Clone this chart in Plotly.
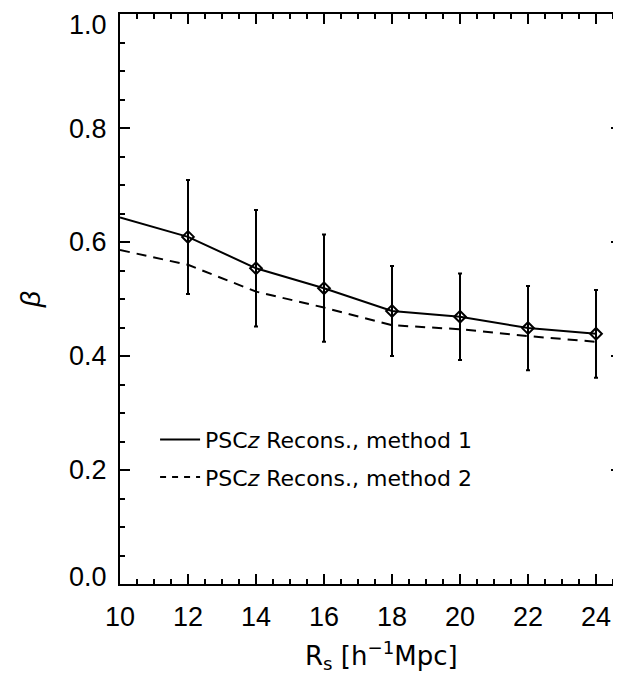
import plotly.graph_objects as go

# Data
rs = [10, 12, 14, 16, 18, 20, 22, 24]
beta_m1 = [0.643, 0.609, 0.554, 0.519, 0.479, 0.469, 0.449, 0.439]
err_m1 = [0.0, 0.100, 0.102, 0.094, 0.079, 0.076, 0.074, 0.077]
beta_m2 = [0.586, 0.560, 0.513, 0.485, 0.454, 0.447, 0.435, 0.425]

label_m1 = "PSC<i>z</i> Recons., method 1"
label_m2 = "PSC<i>z</i> Recons., method 2"
x_title = "R<sub>s</sub> [h<sup>−1</sup>Mpc]"
y_title = "<i>β</i>"

x_tickvals = [10, 12, 14, 16, 18, 20, 22, 24]
y_tickvals = [0.0, 0.2, 0.4, 0.6, 0.8, 1.0]
y_ticktext = ["0.0", "0.2", "0.4", "0.6", "0.8", "1.0"]

FONT = "Liberation Sans, Arial, sans-serif"
LFONT = "DejaVu Sans, sans-serif"

fig = go.Figure()

# method 2 dashed line
fig.add_trace(go.Scatter(
    x=rs, y=beta_m2, mode="lines",
    line=dict(color="black", width=2, dash="10px,7px"),
    showlegend=False, hoverinfo="skip",
))
# method 1 solid line
fig.add_trace(go.Scatter(
    x=rs, y=beta_m1, mode="lines",
    line=dict(color="black", width=2),
    showlegend=False, hoverinfo="skip",
))
# method 1 markers + error bars (points from 12 on)
fig.add_trace(go.Scatter(
    x=rs[1:], y=beta_m1[1:], mode="markers",
    marker=dict(symbol="diamond-open", size=9, color="black",
                line=dict(color="black", width=2)),
    error_y=dict(type="data", array=err_m1[1:], visible=True,
                 color="black", thickness=2, width=2),
    showlegend=False,
))
# legend entries
fig.add_trace(go.Scatter(
    x=[None], y=[None], mode="lines", name=label_m1,
    line=dict(color="black", width=2), legendgroup="a",
))
fig.add_trace(go.Scatter(
    x=[None], y=[None], mode="lines", name=label_m2,
    line=dict(color="black", width=2, dash="6px,6px"), legendgroup="b",
))

# y tick labels: end labels are nudged inside the axis span (as in the original)
axis_ticktext = [t if 0 < v < 1 else "" for v, t in zip(y_tickvals, y_ticktext)]
for v, t in zip(y_tickvals, y_ticktext):
    if v in (y_tickvals[0], y_tickvals[-1]):
        fig.add_annotation(
            text=t, xref="paper", yref="y", x=0, y=v,
            xanchor="right", yanchor="middle", showarrow=False,
            xshift=-11, yshift=(-11 if v == y_tickvals[-1] else 7),
            font=dict(size=27, family=FONT, color="black"),
        )

fig.add_annotation(
    text=x_title, xref="paper", yref="paper", x=0.521, y=-0.125,
    xanchor="center", yanchor="middle", showarrow=False,
    font=dict(size=26, family=LFONT, color="black"),
)

fig.update_layout(
    width=613, height=665,
    margin=dict(l=112, r=0, t=6, b=89, autoexpand=False),
    paper_bgcolor="white", plot_bgcolor="white",
    font=dict(family=FONT, color="black"),
    legend=dict(
        x=0.07, y=0.29, xanchor="left", yanchor="top",
        bgcolor="rgba(0,0,0,0)", font=dict(size=22, family=LFONT),
        tracegroupgap=6, itemwidth=40,
    ),
    xaxis=dict(
        range=[10, 24.735], showgrid=False, zeroline=False, automargin=False,
        showline=True, linecolor="black", linewidth=2, mirror="ticks",
        ticks="inside", ticklen=10, tickwidth=2, tickcolor="black",
        tickvals=x_tickvals, tickfont=dict(size=27, family=FONT),
        ticklabelstandoff=8, ticklabeloverflow="allow",
        minor=dict(dtick=0.5, ticks="inside", ticklen=5, tickwidth=2, tickcolor="black"),
    ),
    yaxis=dict(
        range=[0, 1.0001], showgrid=False, zeroline=False, automargin=False,
        showline=True, linecolor="black", linewidth=2, mirror="ticks",
        ticks="inside", ticklen=10, tickwidth=2, tickcolor="black",
        tickvals=y_tickvals, ticktext=axis_ticktext, tickfont=dict(size=27, family=FONT),
        ticklabelstandoff=6, ticklabeloverflow="allow",
        minor=dict(dtick=0.05, ticks="inside", ticklen=5, tickwidth=2, tickcolor="black"),
        title=dict(text=y_title, font=dict(size=28, family=FONT), standoff=20),
    ),
)

fig.write_html("out.html")
